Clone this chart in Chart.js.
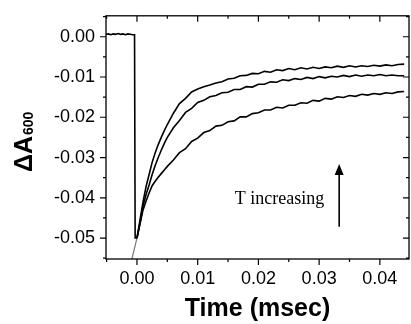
<!DOCTYPE html>
<html>
<head>
<meta charset="utf-8">
<script src="https://cdn.jsdelivr.net/npm/chart.js@4"></script>
<style>
  body { margin: 0; background: #fff; }
</style>
</head>
<body>
<canvas id="chart" width="411" height="324"></canvas>
<script>
// time axis (msec) shared by the three recovery traces
const timeMs = [0, 0.0005, 0.001, 0.0015, 0.002, 0.0025, 0.003, 0.0035, 0.004, 0.0045, 0.005,
  0.006, 0.007, 0.008, 0.009, 0.010, 0.011, 0.012, 0.013, 0.014, 0.015, 0.016, 0.017, 0.018, 0.019,
  0.020, 0.021, 0.022, 0.023, 0.024, 0.025, 0.026, 0.027, 0.028, 0.029, 0.030, 0.031, 0.032, 0.033,
  0.034, 0.035, 0.036, 0.037, 0.038, 0.039, 0.040, 0.041, 0.042, 0.043, 0.044];

// highest T (fastest recovery)
const traceHigh = [-0.0500, -0.0455, -0.0410, -0.0372, -0.0342, -0.0312, -0.0288, -0.0268, -0.0250, -0.0233, -0.0218,
  -0.0190, -0.0166, -0.0153, -0.0137, -0.0130, -0.0124, -0.0120, -0.0115, -0.0112, -0.0105, -0.0103, -0.0097, -0.0096, -0.0091,
  -0.0092, -0.0086, -0.0088, -0.0082, -0.0084, -0.0079, -0.0082, -0.0077, -0.0080, -0.0076, -0.0079, -0.0075, -0.0077, -0.0073,
  -0.0076, -0.0072, -0.0075, -0.0072, -0.0074, -0.0071, -0.0073, -0.0070, -0.0072, -0.0069, -0.0068];

const traceMid = [-0.0500, -0.0462, -0.0420, -0.0392, -0.0368, -0.0342, -0.0320, -0.0300, -0.0282, -0.0265, -0.0250,
  -0.0226, -0.0208, -0.0188, -0.0178, -0.0163, -0.0158, -0.0149, -0.0146, -0.0139, -0.0138, -0.0131, -0.0131, -0.0124, -0.0125,
  -0.0118, -0.0118, -0.0112, -0.0113, -0.0107, -0.0109, -0.0104, -0.0106, -0.0101, -0.0104, -0.0099, -0.0102, -0.0098, -0.0100,
  -0.0096, -0.0099, -0.0095, -0.0098, -0.0095, -0.0097, -0.0094, -0.0097, -0.0095, -0.0097, -0.0097];

// lowest T (slowest recovery)
const traceLow = [-0.0500, -0.0465, -0.0430, -0.0408, -0.0388, -0.0370, -0.0359, -0.0349, -0.0340, -0.0331, -0.0322,
  -0.0306, -0.0288, -0.0278, -0.0260, -0.0252, -0.0238, -0.0233, -0.0222, -0.0220, -0.0211, -0.0209, -0.0199, -0.0199, -0.0191,
  -0.0189, -0.0182, -0.0182, -0.0175, -0.0177, -0.0170, -0.0170, -0.0164, -0.0165, -0.0158, -0.0160, -0.0153, -0.0155, -0.0149,
  -0.0151, -0.0146, -0.0148, -0.0143, -0.0145, -0.0141, -0.0143, -0.0139, -0.0141, -0.0137, -0.0136];

// baseline before the flash, then the drop
const preTime = [-0.0051, -0.0047, -0.0043, -0.0039, -0.0035, -0.0031, -0.0027, -0.0023, -0.0019, -0.0015, -0.0011, -0.0007, -0.0004, -0.0003, 0];
const preValue = [0.0006, 0.0007, 0.0005, 0.0007, 0.0006, 0.0008, 0.0006, 0.0007, 0.0005, 0.0007, 0.0006, 0.0005, 0.0005, -0.0500, -0.0500];

// grey fit extrapolated back before t = 0
const fitTime = [-0.0010, 0];
const fitValue = [-0.0562, -0.0500];

const xTicks = [0, 0.01, 0.02, 0.03, 0.04];
const yTicks = [0, -0.01, -0.02, -0.03, -0.04, -0.05];

const FONT = "'Liberation Sans', Arial, sans-serif";

function pts(xs, ys) {
  return xs.map((x, i) => ({ x: x, y: ys[i] }));
}

function lineSet(data, color, width) {
  return {
    data: data,
    borderColor: color,
    borderWidth: width,
    pointRadius: 0,
    tension: 0,
    fill: false
  };
}

// frame, ticks on all four sides, the y title with subscript and the annotation
const decorations = {
  id: 'decorations',
  afterDraw(chart) {
    const ctx = chart.ctx;
    const a = chart.chartArea;
    const xs = chart.scales.x, ys = chart.scales.y;
    ctx.save();
    ctx.strokeStyle = '#000';
    ctx.lineWidth = 1.3;
    ctx.strokeRect(a.left, a.top, a.right - a.left, a.bottom - a.top);

    ctx.lineWidth = 1.2;
    ctx.beginPath();
    for (let k = -11; k <= 1; k++) {
      const v = k * 0.005;
      const p = ys.getPixelForValue(v);
      if (p < a.top - 0.5 || p > a.bottom + 0.5) continue;
      const len = k % 2 === 0 ? 6 : 3;
      ctx.moveTo(a.left - len, p); ctx.lineTo(a.left, p);
      ctx.moveTo(a.right, p); ctx.lineTo(a.right - len, p);
    }
    for (let k = -1; k <= 9; k++) {
      const v = k * 0.005;
      const p = xs.getPixelForValue(v);
      if (p < a.left - 0.5 || p > a.right + 0.5) continue;
      const len = k % 2 === 0 ? 6 : 3;
      ctx.moveTo(p, a.bottom); ctx.lineTo(p, a.bottom + len);
      ctx.moveTo(p, a.top); ctx.lineTo(p, a.top + len);
    }
    ctx.stroke();

    // y title: ΔA with subscript 600
    ctx.fillStyle = '#000';
    ctx.translate(32, 172);
    ctx.rotate(-Math.PI / 2);
    ctx.textAlign = 'left';
    ctx.textBaseline = 'alphabetic';
    ctx.font = 'bold 25px ' + FONT;
    ctx.fillText('ΔA', 0, 0);
    const w = ctx.measureText('ΔA').width;
    ctx.font = 'bold 14px ' + FONT;
    ctx.fillText('600', w + 1, 1);
    ctx.restore();

    // annotation
    ctx.save();
    ctx.fillStyle = '#000';
    ctx.strokeStyle = '#000';
    ctx.font = "18px 'Liberation Serif', 'Times New Roman', serif";
    ctx.textBaseline = 'alphabetic';
    ctx.fillText('T increasing', xs.getPixelForValue(0.0161), ys.getPixelForValue(-0.0415));
    const ax = xs.getPixelForValue(0.0333);
    const y0 = ys.getPixelForValue(-0.0472);
    const y1 = ys.getPixelForValue(-0.0316);
    ctx.lineWidth = 1.6;
    ctx.beginPath();
    ctx.moveTo(ax, y0); ctx.lineTo(ax, y1 + 6);
    ctx.stroke();
    ctx.beginPath();
    ctx.moveTo(ax, y1);
    ctx.lineTo(ax - 4.5, y1 + 11);
    ctx.lineTo(ax + 4.5, y1 + 11);
    ctx.closePath();
    ctx.fill();
    ctx.restore();
  }
};

new Chart(document.getElementById('chart'), {
  type: 'line',
  data: {
    datasets: [
      lineSet(pts(timeMs, traceHigh), '#000', 1.6),
      lineSet(pts(timeMs, traceMid), '#000', 1.6),
      lineSet(pts(timeMs, traceLow), '#000', 1.6),
      lineSet(pts(preTime, preValue), '#000', 1.6),
      lineSet(pts(fitTime, fitValue), '#777', 1.2)
    ]
  },
  options: {
    responsive: false,
    animation: false,
    events: [],
    layout: { padding: { top: 12, right: 2, left: 0, bottom: 0 } },
    plugins: { legend: { display: false }, tooltip: { enabled: false } },
    scales: {
      x: {
        type: 'linear',
        min: -0.0051,
        max: 0.0448,
        afterFit(scale) { scale.height = 65; },
        afterBuildTicks(scale) { scale.ticks = xTicks.map(v => ({ value: v })); },
        grid: { display: false, drawTicks: true, tickLength: 5 },
        border: { display: false },
        ticks: {
          padding: 4,
          color: '#000',
          font: { family: FONT, size: 18 },
          maxRotation: 0,
          callback: v => (Math.abs(v) < 1e-9 ? 0 : v).toFixed(2)
        },
        title: {
          display: true,
          text: 'Time (msec)',
          color: '#000',
          font: { family: FONT, size: 25, weight: 'bold' },
          padding: { top: 0, bottom: 0 }
        }
      },
      y: {
        type: 'linear',
        min: -0.0552,
        max: 0.0052,
        afterFit(scale) { scale.width = 106; },
        afterBuildTicks(scale) { scale.ticks = yTicks.map(v => ({ value: v })); },
        grid: { display: false, drawTicks: true, tickLength: 6 },
        border: { display: false },
        ticks: {
          padding: 5,
          color: '#000',
          font: { family: FONT, size: 18 },
          callback: v => (Math.abs(v) < 1e-9 ? 0 : v).toFixed(2)
        }
      }
    }
  },
  plugins: [decorations]
});
</script>
</body>
</html>
